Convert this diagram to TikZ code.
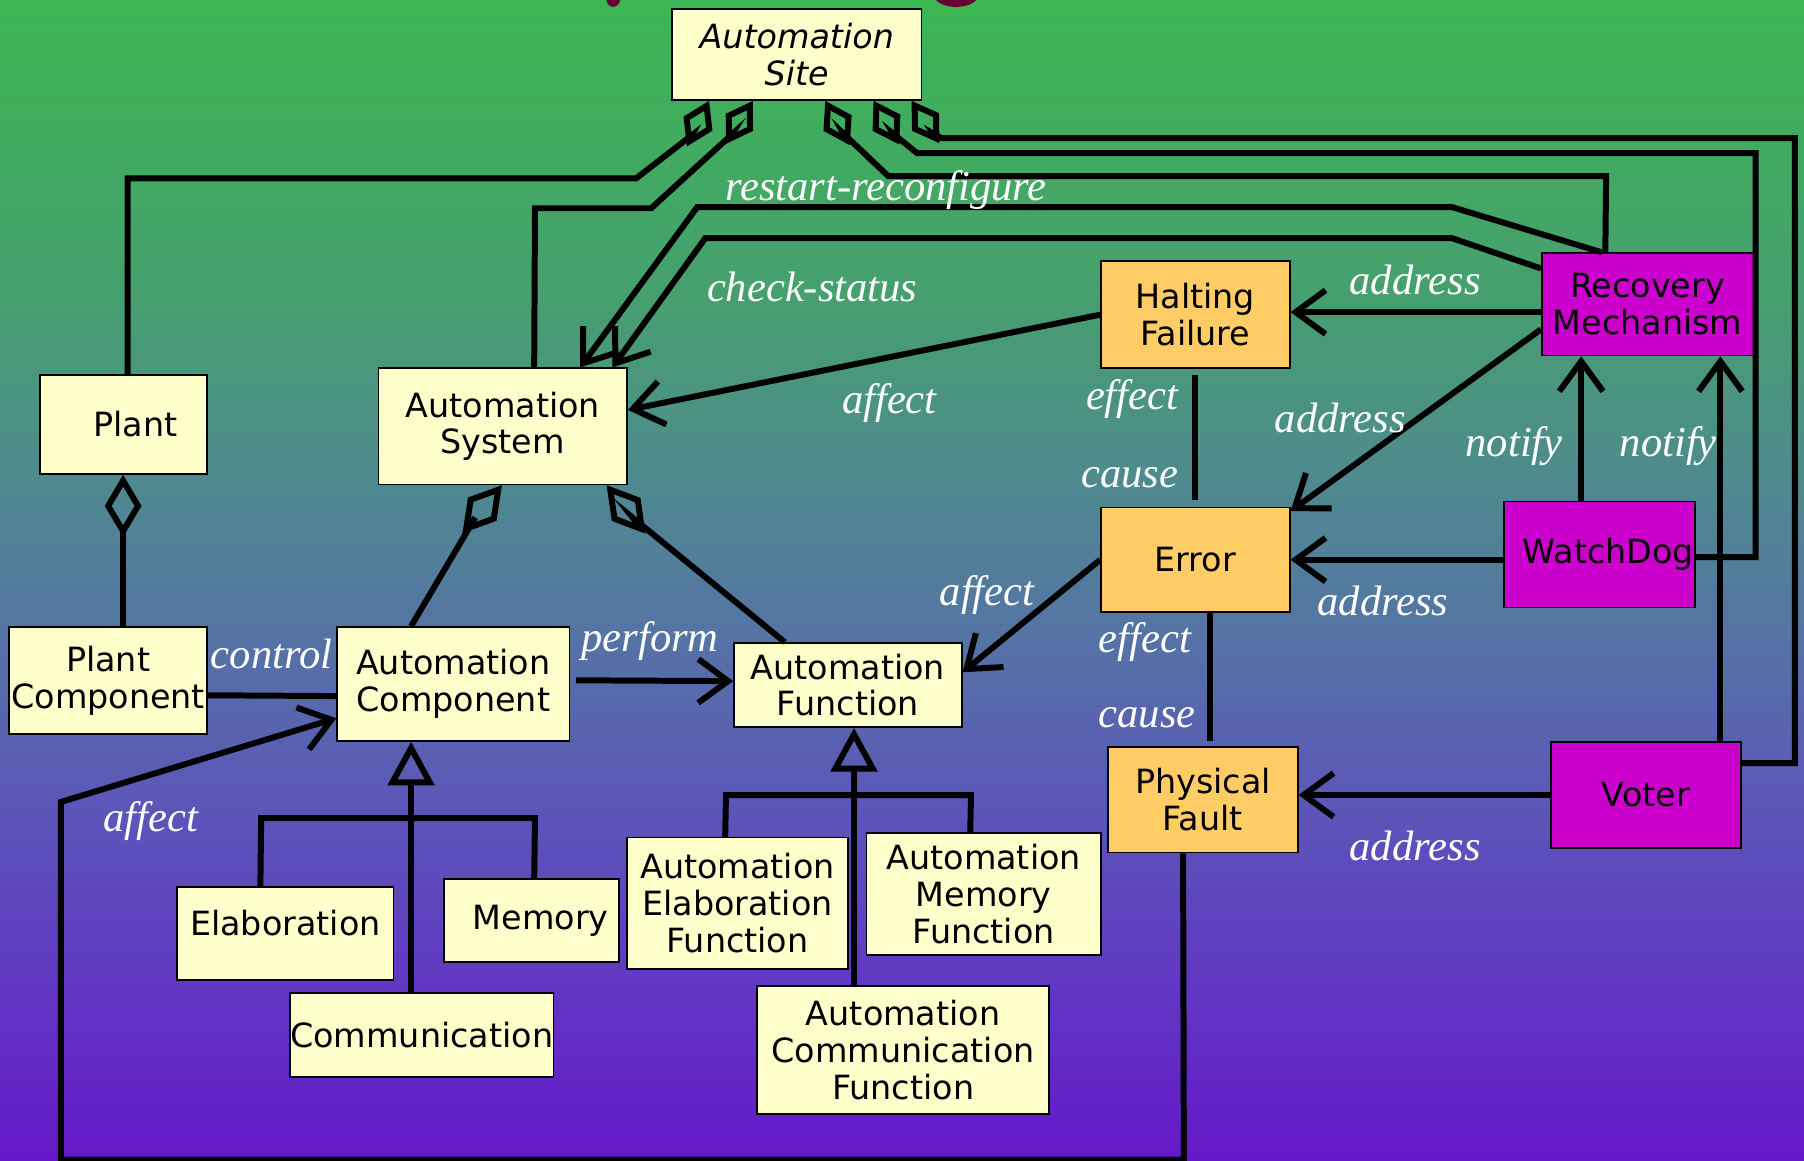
\documentclass[tikz,border=0pt]{standalone}
\usepackage{fontspec}
\usetikzlibrary{arrows.meta,calc}
\newfontfamily\boxfont{DejaVu Sans}
\newfontfamily\lblfont{Liberation Serif}

\definecolor{bgA}{HTML}{6418C8}
\definecolor{bgB}{HTML}{6137C3}
\definecolor{bgC}{HTML}{5C55B9}
\definecolor{bgD}{HTML}{5573A5}
\definecolor{bgE}{HTML}{4E8C8C}
\definecolor{bgF}{HTML}{46A06E}
\definecolor{bgG}{HTML}{3CB652}
\definecolor{boxyel}{HTML}{FFFFCC}
\definecolor{boxorange}{HTML}{FFCC66}
\definecolor{boxmagenta}{HTML}{CC00CC}
\definecolor{titlered}{HTML}{660033}

% the filled area spans 25bp..75bp of the declared shading
\pgfdeclareverticalshading{bgshade}{100bp}{color(0bp)=(bgA); color(25bp)=(bgA); color(32.5bp)=(bgB); color(40bp)=(bgC); color(47.5bp)=(bgD); color(55bp)=(bgE); color(62.5bp)=(bgF); color(75bp)=(bgG); color(100bp)=(bgG)}

% box from corner (x1,y1) to corner (x2,y2)
\newcommand\umlbox[7]{\node[#6, minimum width={(#4-#2)*0.5pt}, minimum height={(#5-#3)*0.5pt}] (#1) at ({(#2+#4)/2},{(#3+#5)/2}) {#7};}

\tikzset{
  box/.style={draw=black, line width=0.7pt, fill=boxyel, inner sep=0pt, align=center,
    font=\boxfont\fontsize{14.5}{16}\selectfont},
  obox/.style={box, fill=boxorange},
  mbox/.style={box, fill=boxmagenta},
  conn/.style={draw=black, line width=2.6pt, line join=miter},
  tip/.style={-{Straight Barb[length=13pt,width=19pt]}},
  agg/.style={{Diamond[open,length=27pt,width=16pt]}-},
  aggs/.style={{Diamond[open,length=22pt,width=14pt]}-},
  gen/.style={-{Triangle[open,length=19pt,width=20pt]}},
  lbl/.style={text=white, inner sep=0pt, font=\lblfont\itshape\fontsize{18.5}{20}\selectfont},
}

\begin{document}
\begin{tikzpicture}[x=0.5pt,y=-0.5pt]
\useasboundingbox (0,0) rectangle (1568,1009);
\clip (0,0) rectangle (1568,1009);
\shade[shading=bgshade] (0,0) rectangle (1568,1009);

% pieces of the heading above the frame
\fill[titlered] (533,-1) ellipse (6 and 7);
\fill[titlered] (831,-4) ellipse (19 and 10);

% classes
\umlbox{AS}{584}{8}{801}{87}{box,font=\boxfont\itshape\fontsize{14.5}{16}\selectfont}{Automation\\Site}
\umlbox{Plant}{35}{326}{180}{412}{box}{\hspace*{10pt}Plant}
\umlbox{ASys}{329}{320}{545}{421}{box}{Automation\\System}
\umlbox{PC}{8}{545}{180}{638}{box}{Plant\\Component}
\umlbox{AC}{293}{545}{495}{644}{box}{Automation\\Component}
\umlbox{AF}{638}{559}{836}{632}{box}{Automation\\Function}
\umlbox{Elab}{154}{771}{342}{852}{box}{\raisebox{9pt}{Elaboration}}
\umlbox{Mem}{386}{764}{538}{836}{box}{\hspace*{8pt}Memory}
\umlbox{Comm}{252}{863}{481}{936}{box}{Communication}
\umlbox{AEF}{545}{728}{737}{842}{box}{Automation\\Elaboration\\Function}
\umlbox{AMF}{753}{724}{957}{830}{box}{Automation\\Memory\\Function}
\umlbox{ACF}{658}{857}{912}{968}{box}{Automation\\Communication\\Function}
\umlbox{HF}{957}{227}{1121}{320}{obox}{Halting\\Failure}
\umlbox{Err}{957}{441}{1121}{532}{obox}{Error}
\umlbox{PF}{963}{649}{1128}{741}{obox}{Physical\\Fault}
\umlbox{RM}{1340}{220}{1524}{309}{mbox}{Recovery\\Mechanism}
\umlbox{WD}{1307}{436}{1473}{528}{mbox}{\hspace*{8pt}WatchDog}
\umlbox{Voter}{1348}{645}{1513}{737}{mbox}{Voter}

% aggregations of the site
\draw[conn,aggs] ($(AS.south west)+(33,0)$) -- (602,117) -- (553,155) -- (111,155) -- (Plant.north -| 111,0);
\draw[conn,aggs] ($(AS.south west)+(71,0)$) -- (636,117) -- (566,181) -- (465,181) -- ($(ASys.north west)+(136,0)$);
\draw[conn,aggs] ($(AS.south west)+(134,0)$) -- (733,116) -- (772,153) -- (1396,153) -- ($(RM.north west)+(56,0)$);
\draw[conn,aggs] ($(AS.south west)+(176,0)$) -- (776,116) -- (797,133) -- (1526,133) |- ($(WD.north east)+(0,49)$);
\draw[conn,aggs] ($(AS.south west)+(209,0)$) -- (811,116) -- (818,120) -- (1560,120) |- ($(Voter.north east)+(0,19)$);

% recovery commands
\draw[conn,tip] ($(RM.north west)+(53,0)$) -- (1262,180) -- (606,180) -- ($(ASys.north west)+(176,0)$);
\draw[conn,tip] ($(RM.north west)+(0,14)$) -- (1262,207) -- (613,207) -- ($(ASys.north west)+(204,0)$);
\node[lbl] (lrestart) at (770,165) {restart-reconfigure};
\node[lbl] (lcheck) at (706,249) {check-status};

% faults and errors
\draw[conn,tip] (HF.west) -- ($(ASys.north east)+(0,37)$);
\node[lbl] (laffect1) at (773,350) {affect};
\draw[conn,tip] ($(RM.north west)+(0,52)$) -- ($(HF.north east)+(0,45)$);
\node[lbl] (laddr1) at (1230,243) {address};
\draw[conn,tip] ($(RM.north west)+(0,67)$) -- ($(Err.north east)+(0,4)$);
\node[lbl] (laddr2) at (1165,363) {address};
\draw[conn] ($(HF.south)+(0,5)$) -- ($(Err.north)+(0,-6)$);
\node[lbl] (leffect1) at (984,347) {effect};
\node[lbl] (lcause1) at (982,415) {cause};
\draw[conn,tip] (Err.west) -- ($(AF.north east)+(0,26)$);
\node[lbl] (laffect2) at (858,517) {affect};
\draw[conn] ($(Err.south west)+(95,0)$) -- ($(PF.north west)+(89,-4)$);
\node[lbl] (leffect2) at (995,558) {effect};
\node[lbl] (lcause2) at (997,624) {cause};
\draw[conn,tip] (WD.west |- Err.east) -- (Err.east);
\node[lbl] (laddr3) at (1202,522) {address};
\draw[conn,tip] ($(WD.north west)+(68,0)$) -- ($(RM.south west)+(35,0)$);
\node[lbl] (lnotify1) at (1316,388) {notify};
\draw[conn,tip] ($(Voter.north west)+(148,0)$) -- ($(RM.south west)+(156,0)$);
\node[lbl] (lnotify2) at (1450,388) {notify};
\draw[conn,tip] (Voter.west) -- (PF.east |- Voter.west);
\node[lbl] (laddr4) at (1230,735) {address};
\draw[conn,tip] ($(PF.south west)+(66,0)$) -- (1029,1008) -- (53,1008) -- (53,697) -- ($(AC.north west)+(0,80)$);
\node[lbl] (laffect3) at (131,714) {affect};

% automation structure
\draw[conn,tip] ($(AC.north east)+(5,47)$) -- (AF.west |- 0,592);
\node[lbl] (lperform) at (565,557) {perform};
\draw[conn] ($(PC.north east)+(0,60)$) -- (AC.west |- 0,605);
\node[lbl] (lcontrol) at (236,568) {control};
\draw[conn,agg] (Plant.south -| 107,0) -- (PC.north -| 107,0);
\draw[conn,agg] ($(ASys.south west)+(108,0)$) -- (413,450) -- ($(AC.north west)+(65,0)$);
\draw[conn,agg] ($(ASys.south west)+(199,0)$) -- (550,450) -- ($(AF.north west)+(45,0)$);

% specialisations
\draw[conn,gen] ($(Comm.north west)+(106,0)$) -- ($(AC.south west)+(65,0)$);
\draw[conn] ($(Elab.north west)+(73,0)$) -- (227,711) -- (465,711) -- ($(Mem.north west)+(79,0)$);
\draw[conn,gen] ($(ACF.north west)+(85,0)$) -- ($(AF.south west)+(105,0)$);
\draw[conn] ($(AEF.north west)+(86,0)$) -- (631,691) -- (844,691) -- ($(AMF.north west)+(91,0)$);
\end{tikzpicture}
\end{document}
